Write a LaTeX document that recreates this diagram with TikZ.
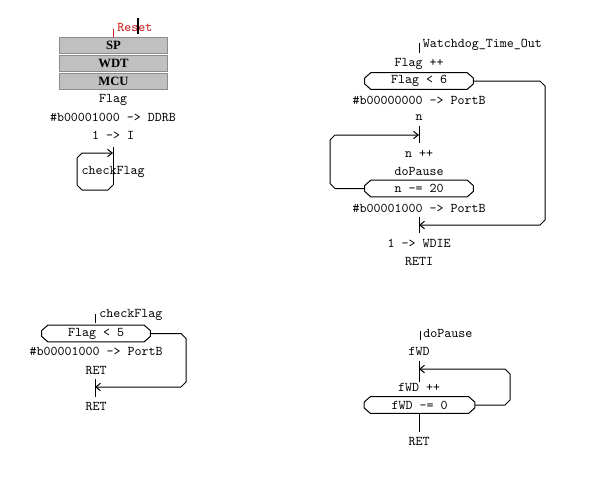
\documentclass[tikz,border=0pt]{standalone}
\usepackage{fontspec}
\setmainfont{Liberation Serif}
\usetikzlibrary{arrows.meta,calc}
\definecolor{resetred}{RGB}{200,20,20}
\definecolor{boxgray}{RGB}{192,192,192}
\definecolor{boxedge}{RGB}{140,140,140}
\newcommand{\octnode}[5]{%
  \node[octtext, minimum width={#4*1.5pt}] (#1) at (#2,#3) {#5};
  \draw[ln] ($(#1.north west)+(6,0)$) -- ($(#1.north east)+(-6,0)$) -- ($(#1.east)+(0,-3)$) -- ($(#1.east)+(0,3)$) -- ($(#1.south east)+(-6,0)$) -- ($(#1.south west)+(6,0)$) -- ($(#1.west)+(0,3)$) -- ($(#1.west)+(0,-3)$) -- cycle;
}
\begin{document}
\begin{tikzpicture}[x=0.75pt,y=-0.75pt,
  txt/.style={font=\ttfamily\fontsize{10}{11}\selectfont, inner sep=0pt, anchor=center},
  ltxt/.style={txt, anchor=west},
  octtext/.style={txt, minimum height=12pt},
  ln/.style={line width=0.75pt, black},
  arr/.style={ln, -{Straight Barb[length=3.5pt,width=5.5pt,line width=0.75pt]}},
  regbox/.style={draw=boxedge, fill=boxgray, line width=0.75pt, minimum width=80.5pt, minimum height=12pt, inner sep=0pt, font=\rmfamily\bfseries\fontsize{9.5}{10}\selectfont}
]
\useasboundingbox (0,0) rectangle (589,479);

% ---------- Block 1: Reset ----------
\node[ltxt, text=resetred] (reset) at (117,27) {Reset};
\coordinate (cur1) at (137.5,18);
\coordinate (cur2) at (137.5,34);
\draw[line width=1.5pt] (cur1) -- (cur2);
\node[regbox] (sp) at (113.5,45.5) {SP};
\node[regbox] (wdt) at (113.5,63.5) {WDT};
\node[regbox] (mcu) at (113.5,81.5) {MCU};
\coordinate (rt) at (113,29);
\draw[line width=0.75pt, resetred] (rt) -- (rt |- sp.north);
\node[txt] (flag1) at (113,100) {Flag};
\node[txt] (ddrb) at (113,117.5) {\#b00001000 -> DDRB};
\node[txt] (seti) at (113,135) {1 -> I};
\node[txt] (call1) at (113,171.5) {checkFlag};
\coordinate (l1top) at (113,147);
\coordinate (l1bot) at (113,185);
\coordinate (a1) at (113,153);
\draw[ln] (l1top) -- (l1bot);
\draw[arr] (l1bot) -- (108,190) -- (82,190) -- (77,185) -- (77,158) -- (82,153) -- (a1);

% ---------- Block 2: Watchdog_Time_Out ----------
\coordinate (t2a) at (419,43);
\coordinate (t2b) at (419,53);
\draw[ln] (t2a) -- (t2b);
\node[ltxt] (wto) at (422.5,45) {Watchdog\_Time\_Out};
\node[txt] (flaginc) at (419,63.5) {Flag ++};
\octnode{oct1}{419}{81}{54}{Flag < 6}
\node[txt] (pb0) at (419,100.5) {\#b00000000 -> PortB};
\node[txt] (nn) at (419,118) {n};
\coordinate (v2a) at (419,126);
\coordinate (v2b) at (419,143);
\coordinate (a2) at (419,135);
\draw[ln] (v2a) -- (v2b);
\node[txt] (ninc) at (419,153.5) {n ++};
\node[txt] (dop) at (419,171.5) {doPause};
\octnode{oct2}{419}{188.5}{54}{n -= 20}
\draw[arr] (oct2.west) -- (335,188.5) -- (330,183.5) -- (330,140) -- (335,135) -- (a2);
\node[txt] (pb8) at (419,208) {\#b00001000 -> PortB};
\coordinate (v3a) at (419,217);
\coordinate (v3b) at (419,233);
\coordinate (a3) at (419,225);
\draw[ln] (v3a) -- (v3b);
\draw[arr] (oct1.east) -- (540,81) -- (545,86) -- (545,220) -- (540,225) -- (a3);
\node[txt] (wdie) at (419,243) {1 -> WDIE};
\node[txt] (reti) at (419,261) {RETI};

% ---------- Block 3: checkFlag ----------
\coordinate (t3a) at (95,314);
\coordinate (t3b) at (95,323);
\draw[ln] (t3a) -- (t3b);
\node[ltxt] (cf) at (99,315) {checkFlag};
\octnode{oct3}{96}{333.5}{54}{Flag < 5}
\node[txt] (pb8b) at (96,351.5) {\#b00001000 -> PortB};
\node[txt] (ret1) at (96,370) {RET};
\coordinate (v4a) at (95,379);
\coordinate (v4b) at (95,397);
\coordinate (a4) at (95,387);
\draw[ln] (v4a) -- (v4b);
\draw[arr] (oct3.east) -- (181,333.5) -- (186,338.5) -- (186,382) -- (181,387) -- (a4);
\node[txt] (ret2) at (96,406) {RET};

% ---------- Block 4: doPause ----------
\coordinate (t4a) at (420,331);
\coordinate (t4b) at (420,340);
\draw[ln] (t4a) -- (t4b);
\node[ltxt] (dp2) at (423,333.5) {doPause};
\node[txt] (fwd) at (419,351.5) {fWD};
\coordinate (v5a) at (419,361);
\coordinate (v5b) at (419,382);
\coordinate (a5) at (419,369);
\draw[ln] (v5a) -- (v5b);
\node[txt] (fwdinc) at (419,387) {fWD ++};
\octnode{oct4}{419.5}{405}{55}{fWD -= 0}
\draw[arr] (oct4.east) -- (505,405) -- (510,400) -- (510,374) -- (505,369) -- (a5);
\coordinate (v6a) at (419,414);
\coordinate (v6b) at (419,432);
\draw[ln] (v6a) -- (v6b);
\node[txt] (ret3) at (419,441) {RET};
\end{tikzpicture}
\end{document}
